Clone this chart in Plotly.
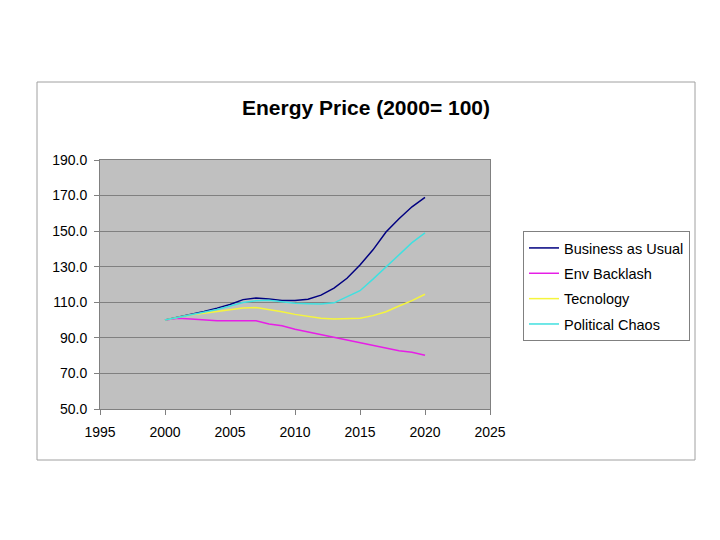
import plotly.graph_objects as go

years = list(range(2000, 2021))
business_as_usual = [100, 101.5, 103.2, 104.8, 106.7, 108.8, 111.5, 112.4, 111.8, 111.0, 111.0,
                     111.7, 114.0, 118.0, 123.5, 131.0, 139.5, 149.5, 157.0, 163.7, 169.0]
env_backlash = [100, 101.0, 100.6, 100.0, 99.6, 99.6, 99.6, 99.6, 97.8, 96.8, 94.8,
                93.3, 91.6, 90.1, 88.8, 86.9, 85.6, 84.3, 82.8, 81.9, 80.2]
tecnology = [100, 101.5, 103.0, 103.8, 104.7, 105.6, 106.8, 107.0, 106.0, 104.7, 103.2,
             101.9, 101.0, 100.6, 100.6, 101.0, 102.5, 104.7, 107.9, 110.9, 114.5]
political_chaos = [100, 101.5, 103.0, 104.2, 106.0, 107.9, 109.9, 110.9, 111.2, 110.3, 109.4,
                   109.2, 109.0, 109.7, 113.1, 116.5, 123.0, 130.0, 137.0, 143.5, 149.0]

series = [
    ("Business as Usual", business_as_usual, "#000080"),
    ("Env Backlash", env_backlash, "#E61EE6"),
    ("Tecnology", tecnology, "#F5F53C"),
    ("Political Chaos", political_chaos, "#40E0E0"),
]

fig = go.Figure()
for i, (name, vals, col) in enumerate(series):
    fig.add_trace(go.Scatter(x=years, y=vals, mode="lines", name=name,
                             legendgroup=f"g{i}",
                             line=dict(color=col, width=1.5)))

OFF = 8  # page body offset
L, R, T, B = 100 - OFF, 490 - OFF, 160 - OFF, 409 - OFF
W, H = 720, 540
pw, ph = R - L, B - T
def px(x):
    return (x - OFF - L) / pw
def py(y):
    return (B - (y - OFF)) / ph

fig.update_layout(
    width=W, height=H,
    margin=dict(l=L, r=W - R, t=T, b=H - B, pad=0),
    paper_bgcolor="white",
    plot_bgcolor="#C0C0C0",
    font=dict(family="Liberation Sans, Arial, sans-serif", size=14, color="black"),
    title=dict(text="<b>Energy Price (2000= 100)</b>", x=(366 - OFF) / W, xanchor="center",
               y=1 - (108 - OFF) / H, yanchor="middle", font=dict(size=21)),
    showlegend=True,
    legend=dict(x=px(523), y=py(231), xanchor="left", yanchor="top",
                bgcolor="white", bordercolor="#808080", borderwidth=1,
                font=dict(size=14.5), tracegroupgap=3.5,
                itemwidth=30),
    xaxis=dict(range=[1995, 2025], dtick=5, tick0=1995, showgrid=False,
               showline=True, linecolor="#808080", linewidth=1, mirror=True,
               ticks="outside", ticklen=5, tickcolor="#808080",
               ticklabelstandoff=5,
               tickfont=dict(size=14), zeroline=False),
    yaxis=dict(range=[50, 190], dtick=20, tick0=50, tickformat=".1f",
               showgrid=True, gridcolor="#808080", gridwidth=1,
               showline=True, linecolor="#808080", linewidth=1, mirror=True,
               ticks="outside", ticklen=5, tickcolor="#808080",
               ticklabelstandoff=4,
               tickfont=dict(size=14), zeroline=False),
    shapes=[dict(type="rect", xref="paper", yref="paper",
                 x0=px(37), x1=px(695), y0=py(460), y1=py(82),
                 line=dict(color="#A0A0A0", width=1), fillcolor="rgba(0,0,0,0)",
                 layer="below")],
)

fig.write_html("out.html")
